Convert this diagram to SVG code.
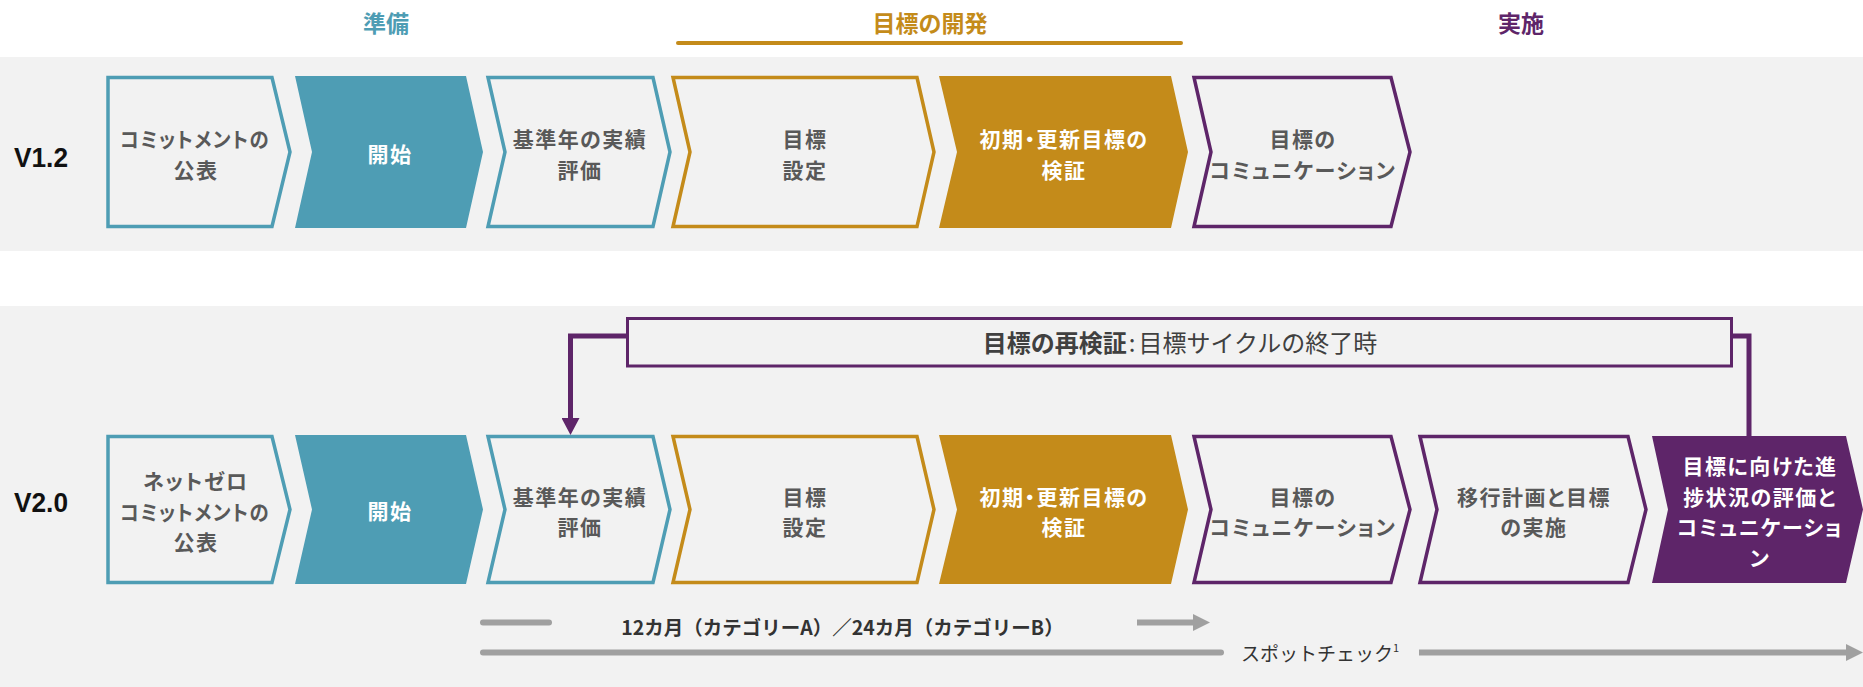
<svg xmlns="http://www.w3.org/2000/svg" width="1863" height="687" viewBox="0 0 1863 687">
<defs>
<style>
.band{fill:#f2f2f2}
.t{font-family:"Noto Sans CJK JP","Noto Sans",sans-serif}
.lbl{font-family:"Noto Sans CJK JP","Noto Sans",sans-serif;font-size:21px;font-weight:700;fill:#595959;text-anchor:middle;font-feature-settings:"palt";letter-spacing:1.5px}
.w{fill:#ffffff}
.ver{font-family:"Liberation Sans",Arial,sans-serif;font-size:28px;font-weight:700;fill:#111111}
.phase{font-family:"Noto Sans CJK JP","Noto Sans",sans-serif;font-size:23px;font-weight:700;text-anchor:middle}
.oT{fill:#f2f2f2;stroke:#4e9db4;stroke-width:3.5}
.oG{fill:#f2f2f2;stroke:#c48b1a;stroke-width:3.5}
.oP{fill:#f2f2f2;stroke:#5e2569;stroke-width:3.5}
.fT{fill:#4e9db4}
.fG{fill:#c48b1a}
.fP{fill:#5e2569}
.pc{fill:none;stroke:#5e2569;stroke-width:5}
.ga{fill:none;stroke:#a0a0a0;stroke-width:6}
</style>
<marker id="ahP" markerWidth="18" markerHeight="18" refX="7" refY="9" orient="auto" markerUnits="userSpaceOnUse">
<path d="M0,0 L17,9 L0,18 Z" fill="#5e2569"/>
</marker>
</defs>

<rect width="1863" height="687" fill="#ffffff"/>
<rect class="band" x="0" y="57" width="1863" height="194"/>
<rect class="band" x="0" y="306" width="1863" height="381"/>

<g id="phases">
<text class="phase" x="386" y="31.5" fill="#4e9db4">準備</text>
<text class="phase" x="930" y="31.5" fill="#c48b1a">目標の開発</text>
<line x1="678" y1="43" x2="1181" y2="43" stroke="#c48b1a" stroke-width="4" stroke-linecap="round"/>
<text class="phase" x="1521" y="31.5" fill="#5e2569">実施</text>
</g>

<g id="versions">
<text class="ver" x="14" y="166.5" textLength="54" lengthAdjust="spacingAndGlyphs">V1.2</text>
<text class="ver" x="14" y="511.5" textLength="54" lengthAdjust="spacingAndGlyphs">V2.0</text>
</g>

<!-- Row V1.2 -->
<g id="v1-commit">
<path class="oT" d="M108,77.5 H272 L290,152 L272,226.5 H108 Z"/>
<text class="lbl" x="195" y="147"><tspan x="195" textLength="150" lengthAdjust="spacingAndGlyphs">コミットメントの</tspan><tspan x="196" dy="30.5">公表</tspan></text>
</g>
<g id="v1-start">
<path class="fT" d="M295,76 H466 L483,152 L466,228 H295 L312,152 Z"/>
<text class="lbl w" x="390" y="162">開始</text>
</g>
<g id="v1-base">
<path class="oT" d="M488,77.5 H653 L670,152 L653,226.5 H488 L505,152 Z"/>
<text class="lbl" x="580" y="147"><tspan x="580">基準年の実績</tspan><tspan x="580" dy="30.5">評価</tspan></text>
</g>
<g id="v1-set">
<path class="oG" d="M673,77.5 H917 L934,152 L917,226.5 H673 L690,152 Z"/>
<text class="lbl" x="805" y="147"><tspan x="805">目標</tspan><tspan x="805" dy="30.5">設定</tspan></text>
</g>
<g id="v1-validate">
<path class="fG" d="M939,76 H1171 L1188,152 L1171,228 H939 L957,152 Z"/>
<text class="lbl w" x="1064" y="147"><tspan x="1064">初期・更新目標の</tspan><tspan x="1064" dy="30.5">検証</tspan></text>
</g>
<g id="v1-comm">
<path class="oP" d="M1194,77.5 H1391 L1410,152 L1391,226.5 H1194 L1211,152 Z"/>
<text class="lbl" x="1303" y="147"><tspan x="1303">目標の</tspan><tspan x="1303" dy="30.5">コミュニケーション</tspan></text>
</g>

<!-- Row V2.0 -->
<g id="v2-commit">
<path class="oT" d="M108,436.5 H272 L290,509.5 L272,582.5 H108 Z"/>
<text class="lbl" x="196" y="489"><tspan x="196">ネットゼロ</tspan><tspan x="195" dy="30.5" textLength="150" lengthAdjust="spacingAndGlyphs">コミットメントの</tspan><tspan x="196" dy="30.5">公表</tspan></text>
</g>
<g id="v2-start">
<path class="fT" d="M295,435 H466 L483,509.5 L466,584 H295 L312,509.5 Z"/>
<text class="lbl w" x="390" y="519">開始</text>
</g>
<g id="v2-base">
<path class="oT" d="M488,436.5 H653 L670,509.5 L653,582.5 H488 L505,509.5 Z"/>
<text class="lbl" x="580" y="504.5"><tspan x="580">基準年の実績</tspan><tspan x="580" dy="30.5">評価</tspan></text>
</g>
<g id="v2-set">
<path class="oG" d="M673,436.5 H917 L934,509.5 L917,582.5 H673 L690,509.5 Z"/>
<text class="lbl" x="805" y="504.5"><tspan x="805">目標</tspan><tspan x="805" dy="30.5">設定</tspan></text>
</g>
<g id="v2-validate">
<path class="fG" d="M939,435 H1171 L1188,509.5 L1171,584 H939 L957,509.5 Z"/>
<text class="lbl w" x="1064" y="504.5"><tspan x="1064">初期・更新目標の</tspan><tspan x="1064" dy="30.5">検証</tspan></text>
</g>
<g id="v2-comm">
<path class="oP" d="M1194,436.5 H1391 L1410,509.5 L1391,582.5 H1194 L1211,509.5 Z"/>
<text class="lbl" x="1303" y="504.5"><tspan x="1303">目標の</tspan><tspan x="1303" dy="30.5">コミュニケーション</tspan></text>
</g>
<g id="v2-transition">
<path class="oP" d="M1420,436.5 H1628 L1646,509.5 L1628,582.5 H1420 L1437,509.5 Z"/>
<text class="lbl" x="1534" y="504.5"><tspan x="1534">移行計画と目標</tspan><tspan x="1534" dy="30.5">の実施</tspan></text>
</g>
<g id="v2-progress">
<path class="fP" d="M1652,436 H1846 L1863,509.5 L1846,583 H1652 L1668,509.5 Z"/>
<text class="lbl w" x="1760" y="474"><tspan x="1760">目標に向けた進</tspan><tspan x="1760" dy="30.5">捗状況の評価と</tspan><tspan x="1760" dy="30.5">コミュニケーショ</tspan><tspan x="1760" dy="30.5">ン</tspan></text>
</g>

<g id="revalidation">
<rect x="627.5" y="318.5" width="1104" height="47.5" fill="#f2f2f2" stroke="#5e2569" stroke-width="3"/>
<text class="t" x="1180" y="352" font-size="24" fill="#404040" text-anchor="middle"><tspan font-weight="700">目標の再検証</tspan><tspan dx="2">:</tspan><tspan dx="3">目標サイクルの終了時</tspan></text>
</g>

<g id="connectors">
<path class="pc" d="M626,336 H570.5 V425" marker-end="url(#ahP)"/>
<path class="pc" d="M1733,336 H1749 V436"/>
<path class="ga" d="M483,622.5 H549" stroke-linecap="round"/>
<path class="ga" d="M1137,622.5 H1194"/>
<path d="M1193,614 L1210,622.5 L1193,631 Z" fill="#a0a0a0"/>
<path class="ga" d="M483,652.5 H1221" stroke-linecap="round"/>
<path class="ga" d="M1419,652.5 H1847"/>
<path d="M1846,644 L1863,652.5 L1846,661 Z" fill="#a0a0a0"/>
</g>

<g id="timing-labels">
<text class="t" x="842.5" y="635" font-size="19.5" font-weight="700" fill="#333333" text-anchor="middle">12カ月（カテゴリーA）／24カ月（カテゴリーB）</text>
<text class="t" x="1241" y="661" font-size="19" fill="#333333">スポットチェック<tspan font-size="11" dy="-9">1</tspan></text>
</g>
</svg>
